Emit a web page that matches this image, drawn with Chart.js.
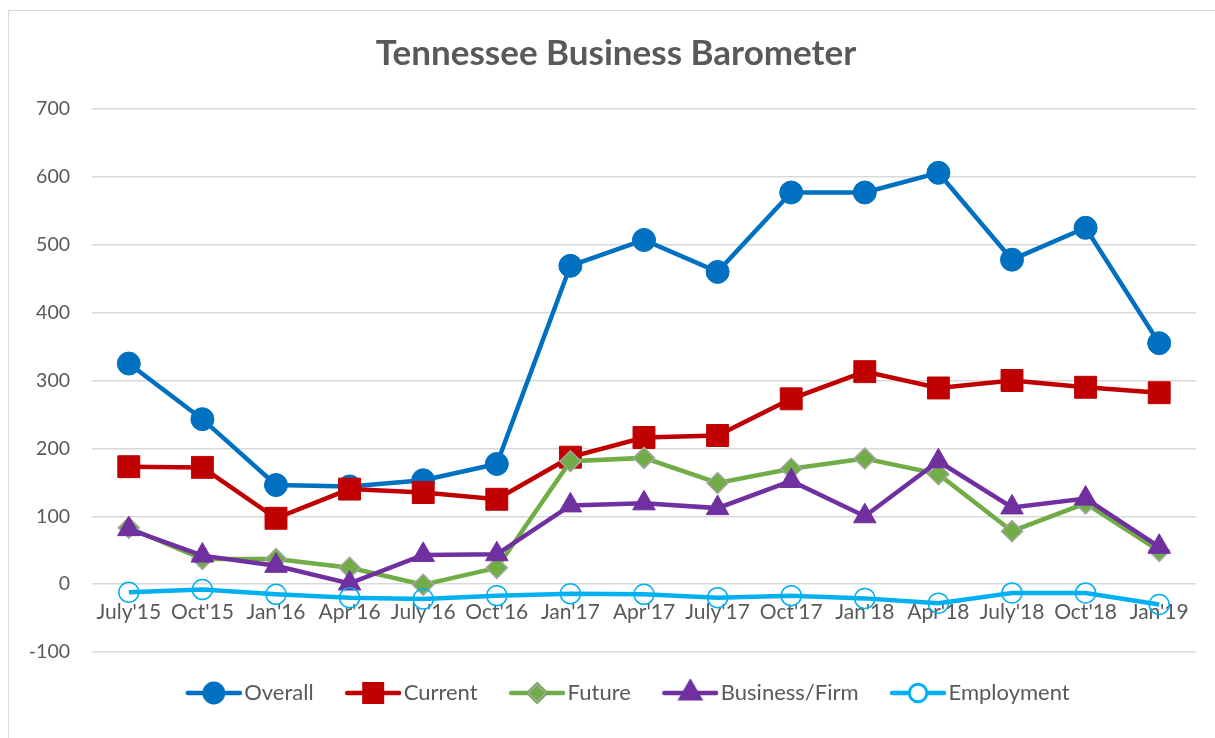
<!DOCTYPE html>
<html lang="en">
<head>
    <meta charset="UTF-8">
    <title>Tennessee Business Barometer</title>
    <script src="https://cdn.jsdelivr.net/npm/chart.js"></script>
    <style>
        body {
            margin: 0;
            background: #fff;
            overflow: hidden;
        }
        .cornice {
            position: absolute;
            left: 8px;
            top: 10px;
            width: 1300px;
            height: 800px;
            border: 1.5px solid #d9d9d9;
        }
        .box {
            position: absolute;
            left: 0;
            top: 0;
            width: 1215px;
            height: 738px;
        }
    </style>
</head>
<body>

<div class="cornice"></div>
<div class="box"><canvas id="grafico" width="1215" height="738"></canvas></div>

<script>
    const periodi = ["July'15", "Oct'15", "Jan'16", "Apr'16", "July'16", "Oct'16", "Jan'17", "Apr'17",
        "July'17", "Oct'17", "Jan'18", "Apr'18", "July'18", "Oct'18", "Jan'19"];

    const overall    = [325, 243, 146, 144, 153, 177, 469, 507, 460, 577, 577, 606, 478, 525, 355];
    const current    = [173, 172,  97, 140, 135, 125, 187, 216, 219, 273, 313, 289, 300, 290, 282];
    const future     = [ 83,  37,  37,  24,  -1,  24, 181, 186, 149, 170, 185, 162,  78, 119,  49];
    const business   = [ 81,  42,  27,   1,  43,  44, 116, 119, 112, 152, 100, 181, 113, 126,  55];
    const employment = [-12,  -8, -15, -20, -22, -17, -14, -15, -20, -17, -21, -28, -13, -13, -30];

    const yTicks = [-100, 0, 100, 200, 300, 400, 500, 600, 700];

    const grigio = '#595959';
    const font = 'Lato';

    const serie = [
        { label: 'Overall', data: overall, color: '#0070C0', style: 'circle', r: 11.5, fill: '#0070C0', bordo: '#0070C0', bw: 1 },
        { label: 'Current', data: current, color: '#C00000', style: 'rect', r: 15.5, fill: '#C00000', bordo: '#C00000', bw: 1 },
        { label: 'Future', data: future, color: '#70AD47', style: 'rectRot', r: 10.5, fill: '#70AD47', bordo: '#A5A5A5', bw: 1.5 },
        { label: 'Business/Firm', data: business, color: '#7030A0', style: 'triangle', r: 13, fill: '#7030A0', bordo: '#7030A0', bw: 1 },
        { label: 'Employment', data: employment, color: '#00B0F0', style: 'circle', r: 10, fill: 'rgba(0,0,0,0)', bordo: '#00B0F0', bw: 1.5 }
    ];

    // icona della legenda: linea + marcatore (spostata a destra nel riquadro)
    function icona(s) {
        const c = document.createElement('canvas');
        c.width = 66; c.height = 28;
        const g = c.getContext('2d');
        g.strokeStyle = s.color; g.lineWidth = 4.5; g.lineCap = 'round';
        g.beginPath(); g.moveTo(12, 14); g.lineTo(64, 14); g.stroke();
        Chart.helpers.drawPoint(g, {
            pointStyle: s.style, radius: s.r * 0.8, rotation: 0, borderWidth: s.bw
        }, 38, 14);
        g.fillStyle = s.fill; g.strokeStyle = s.bordo; g.lineWidth = s.bw;
        if (s.fill.indexOf('rgba') === 0) {
            g.fillStyle = '#fff';
        }
        g.fill(); g.stroke();
        return c;
    }

    // titolo e legenda un po' più a destra, come nell'originale
    const spostaBlocchi = {
        id: 'spostaBlocchi',
        afterLayout(chart) {
            chart.titleBlock.left += 18;
            chart.titleBlock.right += 18;
            chart.legend.left += 29;
            chart.legend.right += 29;
        }
    };

    const datasets = serie.map((s, i) => ({
        label: s.label,
        data: s.data,
        borderColor: s.color,
        backgroundColor: s.color,
        borderWidth: 4.5,
        tension: 0,
        pointStyle: s.style,
        pointRadius: s.r,
        pointHoverRadius: s.r,
        pointBackgroundColor: s.fill,
        pointBorderColor: s.bordo,
        pointBorderWidth: s.bw,
        order: serie.length - i
    }));

    const ctx = document.getElementById('grafico').getContext('2d');
    new Chart(ctx, {
        type: 'line',
        data: { labels: periodi, datasets: datasets },
        plugins: [spostaBlocchi],
        options: {
            responsive: false,
            animation: false,
            layout: { padding: { left: 0, right: 19, top: 0, bottom: 24 } },
            scales: {
                x: {
                    type: 'category',
                    offset: true,
                    position: { y: 0 },
                    grid: { display: false },
                    border: { display: false },
                    ticks: {
                        color: grigio, font: { family: font, size: 21 },
                        padding: 8, maxRotation: 0, autoSkip: false
                    }
                },
                y: {
                    min: -100,
                    max: 700,
                    afterFit: s => { s.width = 92; },
                    afterBuildTicks: s => { s.ticks = yTicks.map(v => ({ value: v })); },
                    grid: { color: '#d9d9d9', lineWidth: 1.5, drawTicks: false },
                    border: { display: false },
                    ticks: { color: grigio, font: { family: font, size: 19.5 }, padding: 22 }
                }
            },
            plugins: {
                title: {
                    display: true,
                    text: 'Tennessee Business Barometer',
                    color: grigio,
                    font: { family: font, size: 35, weight: 'bold' },
                    padding: { top: 33, bottom: 34 }
                },
                legend: {
                    position: 'bottom',
                    labels: {
                        usePointStyle: true,
                        pointStyleWidth: 49,
                        color: grigio,
                        font: { family: font, size: 22 },
                        padding: 30,
                        generateLabels: chart => serie.map((s, i) => ({
                            text: s.label,
                            fontColor: grigio,
                            pointStyle: icona(s),
                            datasetIndex: i,
                            hidden: false,
                            lineWidth: 0
                        }))
                    }
                },
                tooltip: { enabled: false }
            }
        }
    });
</script>

</body>
</html>
